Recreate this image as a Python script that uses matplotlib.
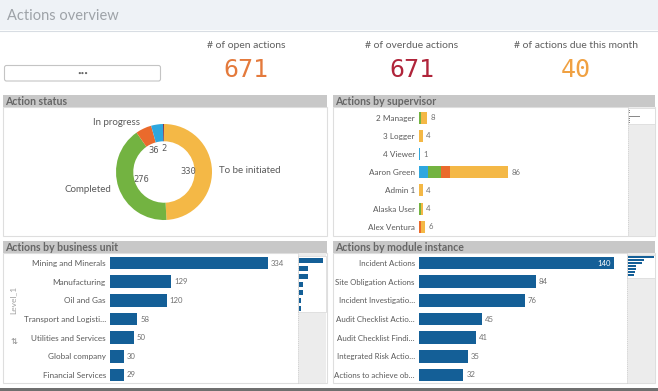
import matplotlib
matplotlib.use('Agg')
import matplotlib.pyplot as plt
from matplotlib.patches import Rectangle, FancyBboxPatch
from matplotlib.transforms import offset_copy
import numpy as np

W, H = 658, 391
plt.rcParams['font.family'] = ['Lato', 'DejaVu Sans']

# ---------------- data ----------------
kpi_titles = ['# of open actions', '# of overdue actions', '# of actions due this month']
kpi_values = [671, 671, 40]

status_labels = ['To be initiated', 'Completed', 'In progress', '', '']
status_values = [330, 276, 36, 27, 2]
status_value_shown = [True, True, True, False, True]

supervisors = ['2 Manager', '3 Logger', '4 Viewer', 'Aaron Green', 'Admin 1', 'Alaska User', 'Alex Ventura']
sup_blue = [0, 0, 1, 9, 0, 0, 0]
sup_green = [2, 0, 0, 12, 0, 2, 0]
sup_orange = [0, 0, 0, 9, 0, 0, 2]
sup_yellow = [6, 4, 0, 56, 4, 2, 4]

bu_labels = ['Mining and Minerals', 'Manufacturing', 'Oil and Gas', 'Transport and Logisti…',
             'Utilities and Services', 'Global company', 'Financial Services']
bu_values = [334, 129, 120, 58, 50, 30, 29]

mod_labels = ['Incident Actions', 'Site Obligation Actions', 'Incident Investigatio…',
              'Audit Checklist Actio…', 'Audit Checklist Findi…', 'Integrated Risk Actio…',
              'Actions to achieve ob…']
mod_values = [140, 84, 76, 45, 41, 35, 32]

# ---------------- styles ----------------
C_YELLOW = '#f4b846'
C_GREEN = '#73b341'
C_ORANGE = '#ea6a2c'
C_BLUE = '#2ea7df'
C_DARK = '#6e2140'
C_BAR = '#145f97'
TXT = '#5a5a5a'
status_colors = [C_YELLOW, C_GREEN, C_ORANGE, C_BLUE, C_DARK]
kpi_colors = ['#e47a3c', '#b0243a', '#f0a142']

fig = plt.figure(figsize=(W / 100, H / 100), dpi=100, facecolor='white')


def px_axes(x0, y0, x1, y1):
    return fig.add_axes([x0 / W, 1 - y1 / H, (x1 - x0) / W, (y1 - y0) / H])


bg = px_axes(0, 0, W, H)
bg.set_xlim(0, W)
bg.set_ylim(H, 0)
bg.axis('off')


def rect(x0, y0, x1, y1, fc, ec='none', lw=0.8, z=1):
    bg.add_patch(Rectangle((x0, y0), x1 - x0, y1 - y0, facecolor=fc, edgecolor=ec,
                           lw=lw, zorder=z))


# header band
rect(0, 0, W, 30, '#eef2f6')
bg.plot([0, W], [30.5, 30.5], color='#d8dde3', lw=0.8)
bg.text(7, 15.5, 'Actions overview', fontsize=10.5, color='#9ea3a8', va='center', ha='left')

# filter box
bg.add_patch(FancyBboxPatch((4.5, 65.5), 156, 15.5, boxstyle='round,pad=0,rounding_size=2',
                            facecolor='white', edgecolor='#c4c4c4', lw=0.8))
bg.text(83, 73, '•••', fontsize=4.5, color='#666666', ha='center', va='center')

# KPIs
kpi_x = [246, 412, 576]
for x, t, v, c in zip(kpi_x, kpi_titles, kpi_values, kpi_colors):
    bg.text(x, 46, t, fontsize=7.5, color='#606060', ha='center', va='center')
    bg.text(x, 70, str(v), fontsize=18, color=c, ha='center', va='center',
            family=['DejaVu Sans Mono'])

# panels
panels = [
    (3, 95, 327, 236, 'Action status'),
    (333, 95, 655, 236, 'Actions by supervisor'),
    (3, 241, 327, 383, 'Actions by business unit'),
    (333, 241, 655, 383, 'Actions by module instance'),
]
for x0, y0, x1, y1, title in panels:
    rect(x0, y0 + 12, x1, y1, 'white', ec='#dedede', lw=0.8)
    rect(x0, y0, x1, y0 + 12, '#c8c8c8')
    bg.text(x0 + 2, y0 + 6.3, title, fontsize=7.6, fontweight='bold', color='#666666',
            ha='left', va='center')

# bottom dark line
rect(0, 387.5, W, 391, '#6f6f6f')

# ---------------- donut ----------------
cx, cy = 164, 172
dax = px_axes(cx - 60, cy - 60, cx + 60, cy + 60)
dax.set_xlim(-1.2, 1.2)
dax.set_ylim(-1.2, 1.2)
dax.set_aspect('equal')
dax.axis('off')
dax.pie(status_values, colors=status_colors, startangle=90, counterclock=False,
        radius=1.0, wedgeprops=dict(width=0.36, edgecolor='none'))
total = sum(status_values)
cum = 0
for lab, v, shown in zip(status_labels, status_values, status_value_shown):
    mid = (cum + v / 2) / total * 2 * np.pi
    cum += v
    sx, sy = np.sin(mid), np.cos(mid)
    if shown:
        dax.text(0.5 * sx, 0.5 * sy, str(v), fontsize=6.3, color=TXT, ha='center', va='center',
                 family=['DejaVu Sans Mono'])
    if lab:
        dax.text(1.15 * sx, 1.15 * sy, lab, fontsize=7, color=TXT, va='center',
                 ha='left' if sx > 0 else 'right')


# ---------------- bar helpers ----------------
def bar_axes(x0, x1, ytop, ybot, xmax, n, lsize=5.9):
    ax = px_axes(x0, ytop, x1, ybot)
    ax.set_xlim(0, xmax)
    ax.set_ylim(n - 0.5, -0.5)
    ax.patch.set_alpha(0)
    for s in ax.spines.values():
        s.set_visible(False)
    ax.set_xticks([])
    ax.tick_params(axis='y', length=0, pad=3, labelsize=lsize, labelcolor=TXT)
    return ax


# supervisor (stacked)
n = len(supervisors)
sax = bar_axes(419, 625, 108.5, 236, (625 - 419) / 1.04, n)
left = [0] * n
for vals, col in zip([sup_blue, sup_green, sup_orange, sup_yellow],
                     [C_BLUE, C_GREEN, C_ORANGE, C_YELLOW]):
    sax.barh(range(n), vals, left=left, height=0.66, color=col)
    left = [a + b for a, b in zip(left, vals)]
sax.set_yticks(range(n))
sax.set_yticklabels(supervisors)
toff = offset_copy(sax.transData, fig=fig, x=3, y=0, units='dots')
for i, t in enumerate(left):
    sax.text(t, i, str(t), transform=toff, fontsize=5.6, color='#707070', va='center', ha='left')

# business unit
n = len(bu_labels)
bax = bar_axes(110, 295, 253.7, 384.3, (295 - 110) / 0.473, n)
bax.barh(range(n), bu_values, height=0.68, color=C_BAR)
bax.set_yticks(range(n))
bax.set_yticklabels(bu_labels)
toff = offset_copy(bax.transData, fig=fig, x=3, y=0, units='dots')
for i, v in enumerate(bu_values):
    bax.text(v, i, str(v), transform=toff, fontsize=5.6, color='#707070', va='center', ha='left')
bg.text(13, 300, 'Level_1', rotation=90, fontsize=6, color='#a0a0a0', ha='center', va='center')
bg.text(14, 341, '⇅', fontsize=6, color='#888888', ha='center', va='center',
        family=['DejaVu Sans'])

# module instance
n = len(mod_labels)
max_val = max(mod_values)
max_ax = bar_axes(419, 625, 253.7, 384.3, (625 - 419) / 1.39, n, lsize=5.7)
max_ax.barh(range(n), mod_values, height=0.68, color=C_BAR)
max_ax.set_yticks(range(n))
max_ax.set_yticklabels(mod_labels)
toff = offset_copy(max_ax.transData, fig=fig, x=3, y=0, units='dots')
tin = offset_copy(max_ax.transData, fig=fig, x=-3, y=0, units='dots')
for i, v in enumerate(mod_values):
    if v == max_val:
        max_ax.text(v, i, str(v), transform=tin, fontsize=5.6, color='white', va='center', ha='right')
    else:
        max_ax.text(v, i, str(v), transform=toff, fontsize=5.6, color='#707070', va='center', ha='left')


# ---------------- mini scroll charts ----------------
def mini(x0, x1, ytop, ybot, wtop, wbot, values, xmax, bar_h):
    rect(x0, ytop, x1, ybot, '#ececec')
    rect(x0, wtop, x1, wbot, 'white', ec='#dcdcdc', lw=0.6)
    bg.plot([x0, x0], [ytop, ybot], color='#c8c8c8', lw=0.6, ls=(0, (1, 1.5)))
    m = px_axes(x0 + 1, wtop + 1, x1 - 1, wtop + 1 + len(values) * bar_h)
    m.set_xlim(0, xmax)
    m.set_ylim(len(values) - 0.5, -0.5)
    m.axis('off')
    m.barh(range(len(values)), values, height=0.65, color=C_BAR)


mini(298, 326, 253, 383, 255.5, 312, bu_values, max(bu_values) * 1.08, 8)
mini(627, 655, 253, 383, 254.5, 278, mod_values, max(mod_values) * 1.0, 3)
sup_tot = [a + b + c + d for a, b, c, d in zip(sup_blue, sup_green, sup_orange, sup_yellow)]
rect(628, 107, 655, 236, '#ececec')
rect(628, 107.5, 655, 124, 'white', ec='#dcdcdc', lw=0.6)
bg.plot([628, 628], [107, 236], color='#c8c8c8', lw=0.6, ls=(0, (1, 1.5)))
sm = px_axes(629, 109, 654, 123)
sm.set_xlim(0, max(sup_tot) * 2.2)
sm.set_ylim(len(sup_tot) - 0.5, -0.5)
sm.axis('off')
sm.barh(range(len(sup_tot)), sup_tot, height=0.5, color='#8a8a8a')

fig.savefig('out.png', dpi=100, facecolor='white')
